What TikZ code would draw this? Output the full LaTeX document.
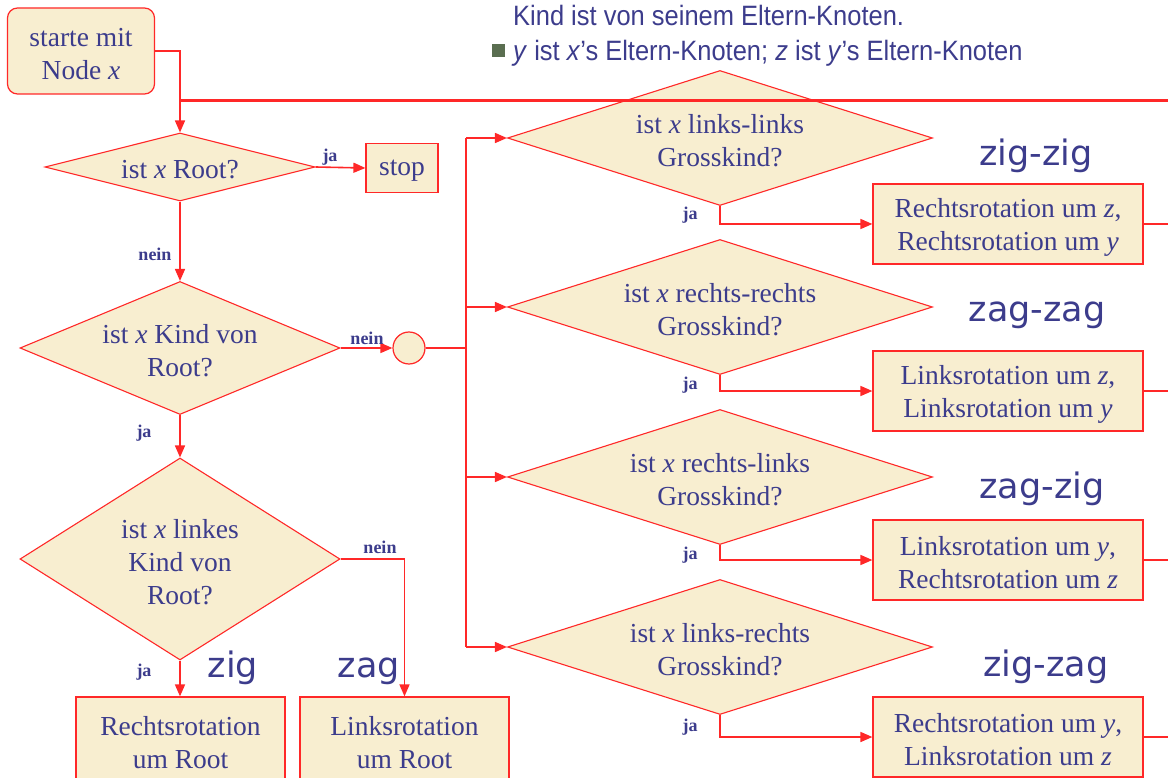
\documentclass[tikz,border=0pt]{standalone}
\usepackage{fontspec}
\setmainfont{Liberation Serif}
\newfontfamily\headsans[FakeStretch=0.91]{Liberation Sans}
\newfontfamily\casesans{DejaVu Sans}
\usetikzlibrary{shapes.geometric,arrows.meta}
\definecolor{ink}{RGB}{60,60,140}
\definecolor{fillc}{RGB}{248,238,208}
\definecolor{lred}{RGB}{255,40,40}
\definecolor{bulletc}{RGB}{90,110,80}
\begin{document}
\begin{tikzpicture}[x=1pt,y=-1pt,
  every node/.style={font=\fontsize{27.5}{33}\selectfont, text=ink},
  box/.style={draw=lred, line width=1.2pt, fill=fillc, inner sep=0pt},
  dec/.style={diamond, draw=lred, line width=1.1pt, fill=fillc, inner sep=0pt},
  txt/.style={align=center, inner sep=0pt, yshift=-3pt},
  flow/.style={draw=lred, line width=1.6pt},
  tip/.style={-{Triangle[length=12pt,width=10pt]}},
  yes/.style={font=\fontsize{18}{20}\selectfont\bfseries, inner sep=0pt},
  case/.style={font=\casesans\fontsize{35}{40}\selectfont, inner sep=0pt, anchor=base},
  head/.style={font=\headsans\fontsize{28}{30}\selectfont, inner sep=0pt, anchor=base west}]

\fill[white] (0,0) rectangle (1168,778);
\useasboundingbox (0,0) rectangle (1168,778);

% heading lines
\node[head] (l1) at (513,26) {Kind ist von seinem Eltern-Knoten.};
\node[fill=bulletc, minimum size=13, inner sep=0pt] (bul) at (498.5,50.5) {};
\node[head] (l2) at (513,61) {\textit{y} ist \textit{x}’s Eltern-Knoten; \textit{z} ist \textit{y}’s Eltern-Knoten};

% left column
\node[box, rounded corners=10pt, minimum width=147, minimum height=86, label={[txt]center:{starte mit\\Node \textit{x}}}] (start) at (81,51) {};
\node[dec, minimum width=270, minimum height=68, label={[txt]center:{ist \textit{x} Root?}}] (d1) at (180,167) {};
\node[box, minimum width=72, minimum height=49, label={[txt]center:{stop}}] (stop) at (402,168) {};
\node[dec, minimum width=320, minimum height=133, label={[txt]center:{ist \textit{x} Kind von\\Root?}}] (d2) at (180,348) {};
\node[circle, draw=lred, line width=1.2pt, fill=fillc, minimum size=32, inner sep=0pt] (join) at (409,348) {};
\node[dec, minimum width=320, minimum height=202, label={[txt]center:{ist \textit{x} linkes\\Kind von\\Root?}}] (d3) at (180,559) {};
\node[box, minimum width=209, minimum height=86, label={[txt]center:{Rechtsrotation\\um Root}}] (zig) at (180.5,740) {};
\node[box, minimum width=209, minimum height=86, label={[txt]center:{Linksrotation\\um Root}}] (zag) at (404.5,740) {};

% right column
\node[dec, minimum width=425, minimum height=135, label={[txt]center:{ist \textit{x} links-links\\Grosskind?}}] (d4) at (720,138) {};
\node[dec, minimum width=425, minimum height=135, label={[txt]center:{ist \textit{x} rechts-rechts\\Grosskind?}}] (d5) at (720,307) {};
\node[dec, minimum width=425, minimum height=135, label={[txt]center:{ist \textit{x} rechts-links\\Grosskind?}}] (d6) at (720,477) {};
\node[dec, minimum width=425, minimum height=135, label={[txt]center:{ist \textit{x} links-rechts\\Grosskind?}}] (d7) at (720,647) {};
\node[box, minimum width=270, minimum height=80, label={[txt]center:{Rechtsrotation um \textit{z},\\Rechtsrotation um \textit{y}}}] (r1) at (1008,224) {};
\node[box, minimum width=270, minimum height=80, label={[txt]center:{Linksrotation um \textit{z},\\Linksrotation um \textit{y}}}] (r2) at (1008,391) {};
\node[box, minimum width=270, minimum height=80, label={[txt]center:{Linksrotation um \textit{y},\\Rechtsrotation um \textit{z}}}] (r3) at (1008,560) {};
\node[box, minimum width=270, minimum height=80, label={[txt]center:{Rechtsrotation um \textit{y},\\Linksrotation um \textit{z}}}] (r4) at (1008,737) {};

% case names
\node[case] (czig) at (233,677) {zig};
\node[case] (czag) at (369,677) {zag};
\node[case] (c1) at (1036,166) {zig-zig};
\node[case] (c2) at (1037,322) {zag-zag};
\node[case] (c3) at (1042,498) {zag-zig};
\node[case] (c4) at (1046,676) {zig-zag};

% connectors
\coordinate (loopR) at (1168,101);
\coordinate (bus) at (466,348);
\draw[flow, tip] (start.east) -| (d1.north);
\draw[flow, line width=3pt] (loopR) -- (loopR -| d1.north);
\draw[flow, tip] (d1.east) -- (stop.west);
\draw[flow, tip] (d1.south) -- (d2.north);
\draw[flow, tip] (d2.east) -- (join.west);
\draw[flow] (join.east) -- (bus);
\draw[flow] (bus |- d4.west) -- (bus |- d7.west);
\foreach \d in {d4,d5,d6,d7} \draw[flow, tip] (bus |- \d.west) -- (\d.west);
\draw[flow, tip] (d2.south) -- (d3.north);
\draw[flow, tip] (d3.south) -- (d3.south |- zig.north);
\draw[flow, tip] (d3.east) -| (zag.north);
\foreach \d/\r in {d4/r1,d5/r2,d6/r3,d7/r4} {
  \draw[flow, tip] (\d.south) |- (\r.west);
  \draw[flow, line width=1.2pt] (\r.east) -- (\r.east -| loopR);
}

% branch labels
\node[yes] (j1) at (330,157) {ja};
\node[yes] (n1) at (155,254) {nein};
\node[yes] (n2) at (367,338) {nein};
\node[yes] (j2) at (144,433) {ja};
\node[yes] (n3) at (380,547) {nein};
\node[yes] (j3) at (144,672) {ja};
\node[yes] (j4) at (690,215) {ja};
\node[yes] (j5) at (690,385) {ja};
\node[yes] (j6) at (690,555) {ja};
\node[yes] (j7) at (690,727) {ja};
\end{tikzpicture}
\end{document}
